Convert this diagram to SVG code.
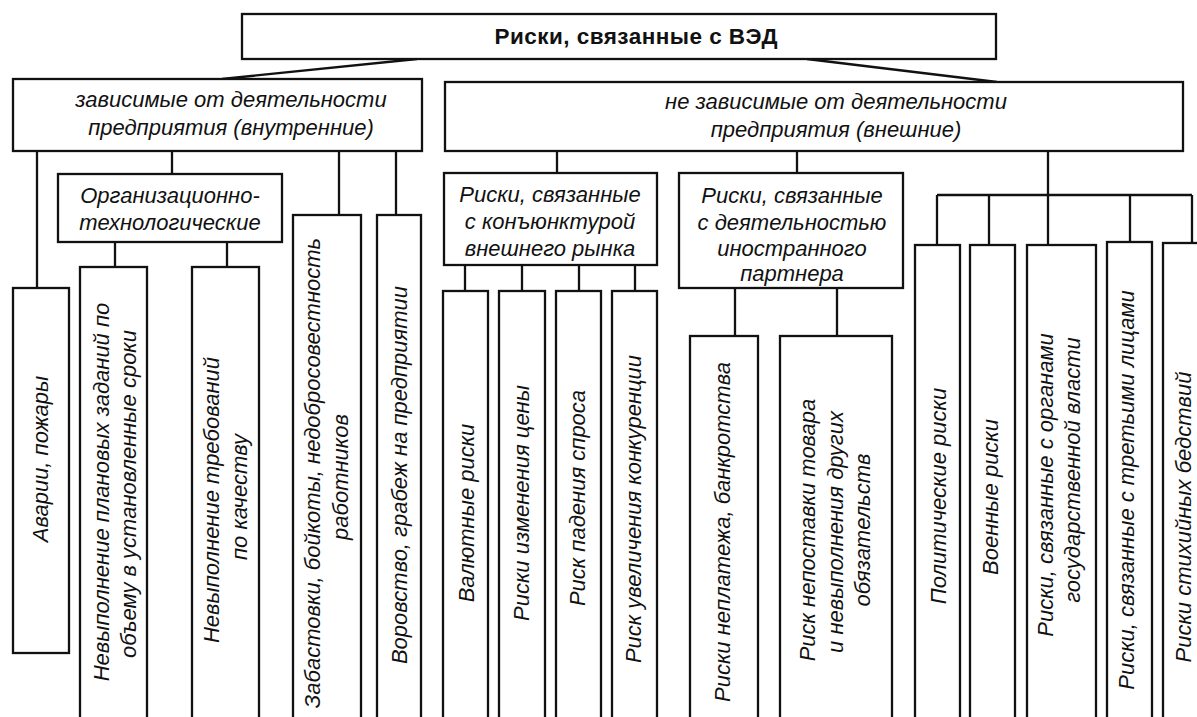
<svg xmlns="http://www.w3.org/2000/svg" width="1197" height="717" viewBox="0 0 1197 717">
<style>
.box{fill:#fff;stroke:#111;stroke-width:2.3}
.ln{fill:none;stroke:#111;stroke-width:2.3}
.t{font-family:"Liberation Sans",Arial,sans-serif;font-style:italic;font-size:22px;fill:#111;text-anchor:middle}
.v{dominant-baseline:central}
.title{font-family:"Liberation Sans",Arial,sans-serif;font-weight:bold;font-size:22.5px;fill:#111;text-anchor:middle}
</style>
<rect width="1197" height="717" fill="#fff"/>
<g id="connectors">
<path class="ln" d="M417,59 L222,79 M807,59 L997,82"/>
<path class="ln" d="M37,151 V288 M172,151 V174 M339,151 V215 M396,151 V215"/>
<path class="ln" d="M115,242 V267 M227,242 V267"/>
<path class="ln" d="M557,151 V173 M797,151 V173 M1048,151 V245"/>
<path class="ln" d="M937,195 H1192 M937,195 V245 M989,195 V245 M1130,195 V242 M1192,195 V243"/>
<path class="ln" d="M465,265 V291 M522,265 V291 M579,265 V291 M635,265 V291"/>
<path class="ln" d="M735,288 V336 M837,288 V336"/>
</g>
<g id="root">
<rect class="box" x="242" y="14" width="754" height="45"/>
<text class="title" x="636" y="44" textLength="283" lengthAdjust="spacing">Риски, связанные с ВЭД</text>
</g>
<g id="internal">
<rect class="box" x="13" y="79" width="409" height="72"/>
<text class="t" x="231" y="107">зависимые от деятельности</text>
<text class="t" x="231" y="135">предприятия (внутренние)</text>
</g>
<g id="external">
<rect class="box" x="445" y="82" width="738" height="69"/>
<text class="t" x="836" y="109">не зависимые от деятельности</text>
<text class="t" x="836" y="137">предприятия (внешние)</text>
</g>
<g id="org">
<rect class="box" x="58" y="174" width="224" height="68"/>
<text class="t" x="170" y="203">Организационно-</text>
<text class="t" x="170" y="230">технологические</text>
</g>
<g id="avarii">
<rect class="box" x="13" y="288" width="56" height="365"/>
<text class="t v" transform="translate(40,459) rotate(-90)">Аварии, пожары</text>
</g>
<g id="plan">
<rect class="box" x="80" y="267" width="67" height="470"/>
<text class="t v" transform="translate(101,492) rotate(-90)">Невыполнение плановых заданий по</text>
<text class="t v" transform="translate(128,494) rotate(-90)">объему в установленные сроки</text>
</g>
<g id="quality">
<rect class="box" x="192" y="267" width="67" height="470"/>
<text class="t v" transform="translate(211,500) rotate(-90)">Невыполнение требований</text>
<text class="t v" transform="translate(239,497) rotate(-90)">по качеству</text>
</g>
<g id="strikes">
<rect class="box" x="293" y="215" width="68" height="520"/>
<text class="t v" transform="translate(312,473) rotate(-90)">Забастовки, бойкоты, недобросовестность</text>
<text class="t v" transform="translate(340,477) rotate(-90)">работников</text>
</g>
<g id="theft">
<rect class="box" x="377" y="215" width="44" height="520"/>
<text class="t v" transform="translate(399,475) rotate(-90)">Воровство, грабеж на предприятии</text>
</g>
<g id="market">
<rect class="box" x="444" y="173" width="213" height="92"/>
<text class="t" x="550" y="202">Риски, связанные</text>
<text class="t" x="550" y="229">с конъюнктурой</text>
<text class="t" x="550" y="256">внешнего рынка</text>
</g>
<g id="currency">
<rect class="box" x="443" y="291" width="45" height="445"/>
<text class="t v" transform="translate(466,513) rotate(-90)">Валютные риски</text>
</g>
<g id="price">
<rect class="box" x="499" y="291" width="46" height="445"/>
<text class="t v" transform="translate(521,503) rotate(-90)">Риски изменения цены</text>
</g>
<g id="demand">
<rect class="box" x="556" y="291" width="45" height="445"/>
<text class="t v" transform="translate(577,498) rotate(-90)">Риск падения спроса</text>
</g>
<g id="competition">
<rect class="box" x="612" y="291" width="45" height="445"/>
<text class="t v" transform="translate(633,509) rotate(-90)">Риск увеличения конкуренции</text>
</g>
<g id="partner">
<rect class="box" x="679" y="173" width="224" height="115"/>
<text class="t" x="792" y="203">Риски, связанные</text>
<text class="t" x="792" y="230">с деятельностью</text>
<text class="t" x="792" y="256">иностранного</text>
<text class="t" x="792" y="281">партнера</text>
</g>
<g id="nonpayment">
<rect class="box" x="690" y="336" width="68" height="400"/>
<text class="t v" transform="translate(722,532) rotate(-90)">Риски неплатежа, банкротства</text>
</g>
<g id="nondelivery">
<rect class="box" x="780" y="336" width="112" height="400"/>
<text class="t v" transform="translate(807,530) rotate(-90)">Риск непоставки товара</text>
<text class="t v" transform="translate(835,532) rotate(-90)">и невыполнения других</text>
<text class="t v" transform="translate(862,530) rotate(-90)">обязательств</text>
</g>
<g id="political">
<rect class="box" x="915" y="245" width="45" height="490"/>
<text class="t v" transform="translate(938,496) rotate(-90)">Политические риски</text>
</g>
<g id="military">
<rect class="box" x="970" y="245" width="45" height="490"/>
<text class="t v" transform="translate(990,497) rotate(-90)">Военные риски</text>
</g>
<g id="government">
<rect class="box" x="1027" y="245" width="69" height="490"/>
<text class="t v" transform="translate(1045,485) rotate(-90)">Риски, связанные с органами</text>
<text class="t v" transform="translate(1072,470) rotate(-90)">государственной власти</text>
</g>
<g id="thirdparty">
<rect class="box" x="1107" y="242" width="45" height="495"/>
<text class="t v" transform="translate(1126,490) rotate(-90)">Риски, связанные с третьими лицами</text>
</g>
<g id="disasters">
<rect class="box" x="1163" y="243" width="50" height="495"/>
<text class="t v" transform="translate(1183,517) rotate(-90)">Риски стихийных бедствий</text>
</g>
</svg>
